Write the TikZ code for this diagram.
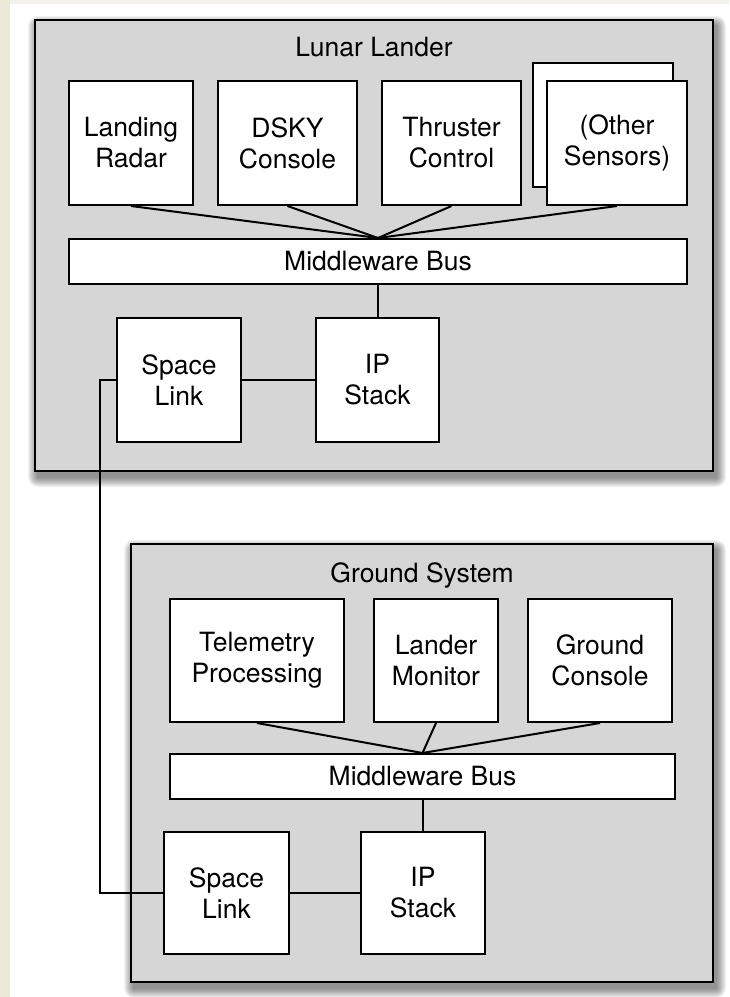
\documentclass[tikz,border=0pt]{standalone}
\usepackage{fontspec}
\setmainfont{TeX Gyre Heros}
\definecolor{panelgray}{RGB}{214,214,214}
\definecolor{stripleft}{RGB}{236,233,217}
\definecolor{striptop}{RGB}{243,242,234}
\tikzset{
  boxtext/.style={font=\fontsize{26.5}{31}\selectfont, align=center},
  unit/.style={draw, line width=2pt, fill=white, inner sep=0pt, boxtext},
  panel/.style={draw, line width=2.6pt, fill=panelgray, inner sep=0pt},
  paneltitle/.style={font=\fontsize{26.5}{31}\selectfont, anchor=base},
  wire/.style={line width=2pt},
}
% soft drop shadow behind a panel: corners (x1,y1) and (x2,y2)
\newcommand\panelshadow[4]{%
  \foreach \k in {1,...,10}{%
    \fill[black, opacity=0.05, rounded corners=\k pt]
      (#1+3-\k, #2+6-\k) rectangle (#3+3+\k, #4+6+\k);}%
}
\begin{document}
\begin{tikzpicture}[x=1pt, y=-1pt]
  % page background
  \useasboundingbox (0,0) rectangle (729,997);
  \fill[white] (0,0) rectangle (729,997);
  \fill[stripleft] (0,0) rectangle (10,997);
  \fill[striptop] (10,0) rectangle (729,4);

  % ---- Lunar Lander ----
  \panelshadow{35}{20}{713}{471}
  \node[panel, minimum width=678pt, minimum height=451pt] (lander) at (374,245.5) {};
  \node[paneltitle] (landertitle) at (374,56) {Lunar Lander};

  \node[unit, minimum width=140pt, minimum height=124pt] (othback) at (603,125) {};
  \node[unit, minimum width=124pt, minimum height=124pt] (lr)   at (131,143)   {Landing\\Radar};
  \node[unit, minimum width=139pt, minimum height=124pt] (dsky) at (287.5,143) {DSKY\\Console};
  \node[unit, minimum width=139pt, minimum height=124pt] (thr)  at (451.5,143) {Thruster\\Control};
  \node[unit, minimum width=140pt, minimum height=124pt] (oth)  at (617,143)   {(Other\\Sensors)};

  \node[unit, minimum width=618pt, minimum height=45pt] (bus1) at (378,261.5) {Middleware Bus};

  \node[unit, minimum width=124pt, minimum height=124pt] (sl1) at (179,380)   {Space\\Link};
  \node[unit, minimum width=123pt, minimum height=124pt] (ip1) at (377.5,380) {IP\\Stack};

  \foreach \n in {lr,dsky,thr,oth}{\draw[wire] (\n.south) -- (bus1.north);}
  \draw[wire] (bus1.south) -- (bus1.south |- ip1.north);
  \draw[wire] (sl1.east) -- (ip1.west);

  % ---- Ground System ----
  \panelshadow{131}{544}{713}{982}
  \node[panel, minimum width=582pt, minimum height=438pt] (ground) at (422,763) {};
  \node[paneltitle] (groundtitle) at (422,582) {Ground System};

  \node[unit, minimum width=174pt, minimum height=123pt] (tel) at (257,660.5) {Telemetry\\Processing};
  \node[unit, minimum width=124pt, minimum height=123pt] (mon) at (436,660.5) {Lander\\Monitor};
  \node[unit, minimum width=144pt, minimum height=123pt] (gc)  at (600,660.5) {Ground\\Console};

  \node[unit, minimum width=505pt, minimum height=45pt] (bus2) at (422.5,776.5) {Middleware Bus};

  \node[unit, minimum width=125pt, minimum height=122pt] (sl2) at (226.5,893) {Space\\Link};
  \node[unit, minimum width=124pt, minimum height=122pt] (ip2) at (423,893)   {IP\\Stack};

  \foreach \n in {tel,mon,gc}{\draw[wire] (\n.south) -- (bus2.north);}
  \draw[wire] (bus2.south) -- (bus2.south |- ip2.north);
  \draw[wire] (sl2.east) -- (ip2.west);

  % ---- space link between the two systems ----
  \coordinate (bend) at (100,380);
  \draw[wire] (sl1.west) -- (bend) |- (sl2.west);
\end{tikzpicture}
\end{document}
